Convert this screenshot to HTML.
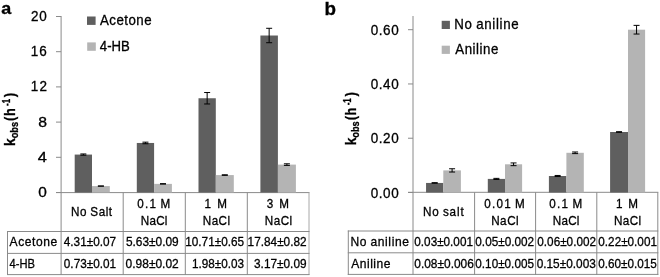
<!DOCTYPE html>
<html><head><meta charset="utf-8"><style>
html,body{margin:0;padding:0;background:#fff;}
svg{display:block;will-change:transform;font-family:"Liberation Sans",sans-serif;}
text{stroke:#000;stroke-width:0.3px;}
</style></head><body>
<svg width="660" height="277" viewBox="0 0 660 277">
<rect width="660" height="277" fill="#fff"/>
<text transform="translate(1.26,14.30) scale(1.0941,1)" font-size="16.4" font-weight="bold">a</text>
<text transform="translate(38.28,197.00) scale(1.0857,1)" font-size="14.2">0</text>
<line x1="56" y1="192.5" x2="61.1" y2="192.5" stroke="#8a8a8a" stroke-width="1"/>
<text transform="translate(37.67,161.80) scale(1.1574,1)" font-size="14.2">4</text>
<line x1="56" y1="157.3" x2="61.1" y2="157.3" stroke="#8a8a8a" stroke-width="1"/>
<text transform="translate(38.19,126.60) scale(1.1088,1)" font-size="14.2">8</text>
<line x1="56" y1="122.1" x2="61.1" y2="122.1" stroke="#8a8a8a" stroke-width="1"/>
<text transform="translate(30.69,91.40) scale(0.9500,1)" font-size="14.2" letter-spacing="1.381">12</text>
<line x1="56" y1="86.89999999999999" x2="61.1" y2="86.89999999999999" stroke="#8a8a8a" stroke-width="1"/>
<text transform="translate(30.69,56.20) scale(0.9500,1)" font-size="14.2" letter-spacing="1.239">16</text>
<line x1="56" y1="51.69999999999999" x2="61.1" y2="51.69999999999999" stroke="#8a8a8a" stroke-width="1"/>
<text transform="translate(31.03,21.00) scale(0.9500,1)" font-size="14.2" letter-spacing="0.813">20</text>
<line x1="56" y1="16.5" x2="61.1" y2="16.5" stroke="#8a8a8a" stroke-width="1"/>
<line x1="61.1" y1="16" x2="61.1" y2="275" stroke="#8a8a8a" stroke-width="1"/>
<line x1="56" y1="192.6" x2="309.5" y2="192.6" stroke="#8a8a8a" stroke-width="1"/>
<line x1="123.2" y1="192.6" x2="123.2" y2="275" stroke="#8a8a8a" stroke-width="1"/>
<line x1="185.3" y1="192.6" x2="185.3" y2="275" stroke="#8a8a8a" stroke-width="1"/>
<line x1="247.3" y1="192.6" x2="247.3" y2="275" stroke="#8a8a8a" stroke-width="1"/>
<line x1="309" y1="192.6" x2="309" y2="275" stroke="#a8a8a8" stroke-width="1"/>
<line x1="7" y1="231.5" x2="309.5" y2="231.5" stroke="#8a8a8a" stroke-width="1"/>
<line x1="7" y1="253.4" x2="309.5" y2="253.4" stroke="#8a8a8a" stroke-width="1"/>
<line x1="7" y1="274.6" x2="309.5" y2="274.6" stroke="#8a8a8a" stroke-width="1"/>
<line x1="7.5" y1="231" x2="7.5" y2="275" stroke="#8a8a8a" stroke-width="1"/>
<rect x="74.70" y="154.57" width="17.30" height="37.93" fill="#5f5f5f"/>
<rect x="92.00" y="186.08" width="17.80" height="6.42" fill="#b4b4b4"/>
<rect x="136.80" y="142.96" width="17.30" height="49.54" fill="#5f5f5f"/>
<rect x="154.10" y="183.88" width="17.80" height="8.62" fill="#b4b4b4"/>
<rect x="198.50" y="98.25" width="17.30" height="94.25" fill="#5f5f5f"/>
<rect x="215.80" y="175.08" width="18.00" height="17.42" fill="#b4b4b4"/>
<rect x="260.40" y="35.51" width="17.50" height="156.99" fill="#5f5f5f"/>
<rect x="277.90" y="164.60" width="18.00" height="27.90" fill="#b4b4b4"/>
<path d="M80.35 153.96H86.35M83.35 153.96V155.19M80.35 155.19H86.35" stroke="#000" stroke-width="1" fill="none"/>
<path d="M97.90 185.99H103.90M100.90 185.99V186.16M97.90 186.16H103.90" stroke="#000" stroke-width="1" fill="none"/>
<path d="M142.45 142.16H148.45M145.45 142.16V143.75M142.45 143.75H148.45" stroke="#000" stroke-width="1" fill="none"/>
<path d="M160.00 183.70H166.00M163.00 183.70V184.05M160.00 184.05H166.00" stroke="#000" stroke-width="1" fill="none"/>
<path d="M204.15 92.53H210.15M207.15 92.53V103.97M204.15 103.97H210.15" stroke="#000" stroke-width="1" fill="none"/>
<path d="M221.80 174.81H227.80M224.80 174.81V175.34M221.80 175.34H227.80" stroke="#000" stroke-width="1" fill="none"/>
<path d="M266.15 28.29H272.15M269.15 28.29V42.72M266.15 42.72H272.15" stroke="#000" stroke-width="1" fill="none"/>
<path d="M283.90 163.81H289.90M286.90 163.81V165.40M283.90 165.40H289.90" stroke="#000" stroke-width="1" fill="none"/>
<rect x="87.00" y="16.50" width="8.60" height="8.40" fill="#5f5f5f"/>
<text transform="translate(100.00,25.20) scale(0.9500,1)" font-size="14" letter-spacing="0.489">Acetone</text>
<rect x="87.20" y="42.40" width="8.60" height="8.40" fill="#b4b4b4"/>
<text transform="translate(99.84,51.20) scale(0.9394,1)" font-size="14">4-HB</text>
<text transform="translate(71.07,215.90) scale(0.9500,1)" font-size="12.3" letter-spacing="0.574" word-spacing="-0.574">No Salt</text>
<text transform="translate(137.33,207.80) scale(0.9500,1)" font-size="12.3" letter-spacing="1.260" word-spacing="-1.260">0.1 M</text>
<text transform="translate(140.87,224.90) scale(0.9500,1)" font-size="12.3" letter-spacing="0.194">NaCl</text>
<text transform="translate(204.62,207.80) scale(0.9500,1)" font-size="12.3" letter-spacing="3.111" word-spacing="-3.111">1 M</text>
<text transform="translate(202.87,224.90) scale(0.9500,1)" font-size="12.3" letter-spacing="0.405">NaCl</text>
<text transform="translate(266.73,207.80) scale(0.9500,1)" font-size="12.3" letter-spacing="2.997" word-spacing="-2.997">3 M</text>
<text transform="translate(264.87,224.90) scale(0.9500,1)" font-size="12.3" letter-spacing="0.475">NaCl</text>
<text transform="translate(9.60,246.30) scale(0.9500,1)" font-size="12.7" letter-spacing="0.608">Acetone</text>
<text transform="translate(9.48,267.80) scale(0.8785,1)" font-size="12.7">4-HB</text>
<text transform="translate(63.76,246.30) scale(0.9297,1)" font-size="12.7">4.31±0.07</text>
<text transform="translate(63.83,267.80) scale(0.9275,1)" font-size="12.7">0.73±0.01</text>
<text transform="translate(125.92,246.30) scale(0.9366,1)" font-size="12.7">5.63±0.09</text>
<text transform="translate(125.62,267.80) scale(0.9431,1)" font-size="12.7">0.98±0.02</text>
<text transform="translate(185.22,246.30) scale(0.9278,1)" font-size="12.7">10.71±0.65</text>
<text transform="translate(192.02,267.80) scale(0.9230,1)" font-size="12.7">1.98±0.03</text>
<text transform="translate(247.61,246.30) scale(0.9297,1)" font-size="12.7">17.84±0.82</text>
<text transform="translate(254.03,267.80) scale(0.9311,1)" font-size="12.7">3.17±0.09</text>
<text transform="translate(324.58,15.40) scale(0.9901,1)" font-size="19" font-weight="bold">b</text>
<text transform="translate(370.76,197.70) scale(0.9500,1)" font-size="14.2" letter-spacing="0.587">0.00</text>
<line x1="408" y1="192.5" x2="413" y2="192.5" stroke="#8a8a8a" stroke-width="1"/>
<text transform="translate(370.76,143.43) scale(0.9500,1)" font-size="14.2" letter-spacing="0.587">0.20</text>
<line x1="408" y1="138.23333333333332" x2="413" y2="138.23333333333332" stroke="#8a8a8a" stroke-width="1"/>
<text transform="translate(370.76,89.17) scale(0.9500,1)" font-size="14.2" letter-spacing="0.587">0.40</text>
<line x1="408" y1="83.96666666666664" x2="413" y2="83.96666666666664" stroke="#8a8a8a" stroke-width="1"/>
<text transform="translate(370.76,34.90) scale(0.9500,1)" font-size="14.2" letter-spacing="0.587">0.60</text>
<line x1="408" y1="29.69999999999999" x2="413" y2="29.69999999999999" stroke="#8a8a8a" stroke-width="1"/>
<line x1="413" y1="16" x2="413" y2="275" stroke="#8a8a8a" stroke-width="1"/>
<line x1="408" y1="192.3" x2="658.3" y2="192.3" stroke="#8a8a8a" stroke-width="1"/>
<line x1="474.6" y1="192.3" x2="474.6" y2="275" stroke="#8a8a8a" stroke-width="1"/>
<line x1="535.6" y1="192.3" x2="535.6" y2="275" stroke="#8a8a8a" stroke-width="1"/>
<line x1="596.8" y1="192.3" x2="596.8" y2="275" stroke="#8a8a8a" stroke-width="1"/>
<line x1="657.8" y1="192.3" x2="657.8" y2="275" stroke="#8a8a8a" stroke-width="1"/>
<line x1="347.8" y1="231.0" x2="658.3" y2="231.0" stroke="#8a8a8a" stroke-width="1"/>
<line x1="347.8" y1="252.8" x2="658.3" y2="252.8" stroke="#8a8a8a" stroke-width="1"/>
<line x1="347.8" y1="274.4" x2="658.3" y2="274.4" stroke="#8a8a8a" stroke-width="1"/>
<line x1="348.3" y1="230.5" x2="348.3" y2="275" stroke="#8a8a8a" stroke-width="1"/>
<rect x="426.06" y="182.95" width="17.24" height="9.55" fill="#5f5f5f"/>
<rect x="443.30" y="170.40" width="17.60" height="22.10" fill="#b4b4b4"/>
<rect x="487.80" y="178.90" width="17.20" height="13.60" fill="#5f5f5f"/>
<rect x="505.00" y="164.30" width="17.10" height="28.20" fill="#b4b4b4"/>
<rect x="548.90" y="176.00" width="17.50" height="16.50" fill="#5f5f5f"/>
<rect x="566.40" y="152.80" width="17.40" height="39.70" fill="#b4b4b4"/>
<rect x="610.10" y="132.00" width="17.90" height="60.50" fill="#5f5f5f"/>
<rect x="628.00" y="29.70" width="17.10" height="162.80" fill="#b4b4b4"/>
<path d="M431.68 182.68H437.68M434.68 182.68V183.22M431.68 183.22H437.68" stroke="#000" stroke-width="1" fill="none"/>
<path d="M449.10 168.77H455.10M452.10 168.77V172.03M449.10 172.03H455.10" stroke="#000" stroke-width="1" fill="none"/>
<path d="M493.40 178.36H499.40M496.40 178.36V179.44M493.40 179.44H499.40" stroke="#000" stroke-width="1" fill="none"/>
<path d="M510.55 162.94H516.55M513.55 162.94V165.66M510.55 165.66H516.55" stroke="#000" stroke-width="1" fill="none"/>
<path d="M554.65 175.46H560.65M557.65 175.46V176.54M554.65 176.54H560.65" stroke="#000" stroke-width="1" fill="none"/>
<path d="M572.10 151.99H578.10M575.10 151.99V153.61M572.10 153.61H578.10" stroke="#000" stroke-width="1" fill="none"/>
<path d="M616.05 131.73H622.05M619.05 131.73V132.27M616.05 132.27H622.05" stroke="#000" stroke-width="1" fill="none"/>
<path d="M633.55 25.36H639.55M636.55 25.36V34.04M633.55 34.04H639.55" stroke="#000" stroke-width="1" fill="none"/>
<rect x="441.70" y="20.80" width="8.20" height="8.20" fill="#5f5f5f"/>
<text transform="translate(454.24,29.30) scale(0.9500,1)" font-size="14" letter-spacing="0.703" word-spacing="-0.703">No aniline</text>
<rect x="441.70" y="45.70" width="8.20" height="8.20" fill="#b4b4b4"/>
<text transform="translate(455.30,54.20) scale(0.9500,1)" font-size="14" letter-spacing="0.544">Aniline</text>
<text transform="translate(423.07,215.60) scale(0.9500,1)" font-size="12.3" letter-spacing="0.895" word-spacing="-0.895">No salt</text>
<text transform="translate(484.33,207.60) scale(0.9500,1)" font-size="12.3" letter-spacing="1.264" word-spacing="-1.264">0.01 M</text>
<text transform="translate(491.17,224.70) scale(0.9500,1)" font-size="12.3" letter-spacing="0.545">NaCl</text>
<text transform="translate(549.33,207.60) scale(0.9500,1)" font-size="12.3" letter-spacing="1.260" word-spacing="-1.260">0.1 M</text>
<text transform="translate(552.87,224.70) scale(0.9500,1)" font-size="12.3" letter-spacing="0.194">NaCl</text>
<text transform="translate(616.12,207.60) scale(0.9500,1)" font-size="12.3" letter-spacing="2.585" word-spacing="-2.585">1 M</text>
<text transform="translate(613.97,224.70) scale(0.9500,1)" font-size="12.3" letter-spacing="0.405">NaCl</text>
<text transform="translate(350.53,246.30) scale(0.9500,1)" font-size="12.7" letter-spacing="0.629" word-spacing="-0.629">No aniline</text>
<text transform="translate(351.20,267.50) scale(0.9500,1)" font-size="12.7" letter-spacing="0.535">Aniline</text>
<text transform="translate(414.33,246.30) scale(0.9237,1)" font-size="12.7">0.03±0.001</text>
<text transform="translate(414.32,267.50) scale(0.9388,1)" font-size="12.7">0.08±0.006</text>
<text transform="translate(475.33,246.30) scale(0.9263,1)" font-size="12.7">0.05±0.002</text>
<text transform="translate(475.33,267.50) scale(0.9244,1)" font-size="12.7">0.10±0.005</text>
<text transform="translate(537.33,246.30) scale(0.9247,1)" font-size="12.7">0.06±0.002</text>
<text transform="translate(536.63,267.50) scale(0.9340,1)" font-size="12.7">0.15±0.003</text>
<text transform="translate(598.33,246.30) scale(0.9237,1)" font-size="12.7">0.22±0.001</text>
<text transform="translate(598.33,267.50) scale(0.9228,1)" font-size="12.7">0.60±0.015</text>
<text transform="translate(14.90,145.97) rotate(-90) scale(0.8913,1)" font-size="15.5" font-weight="bold">k</text>
<text transform="translate(18.10,138.27) rotate(-90) scale(0.8367,1)" font-size="11" font-weight="bold">obs</text>
<text transform="translate(14.90,120.94) rotate(-90) scale(0.8295,1)" font-size="15.5" font-weight="bold">(</text>
<text transform="translate(14.90,116.09) rotate(-90) scale(0.8199,1)" font-size="15.5" font-weight="bold">h</text>
<text transform="translate(9.60,105.92) rotate(-90) scale(0.8000,1)" font-size="10" font-weight="bold">-1</text>
<text transform="translate(14.90,97.20) rotate(-90) scale(0.8602,1)" font-size="15.5" font-weight="bold">)</text>
<text transform="translate(356.20,145.37) rotate(-90) scale(0.8913,1)" font-size="15.5" font-weight="bold">k</text>
<text transform="translate(359.40,137.67) rotate(-90) scale(0.8367,1)" font-size="11" font-weight="bold">obs</text>
<text transform="translate(356.20,120.34) rotate(-90) scale(0.8295,1)" font-size="15.5" font-weight="bold">(</text>
<text transform="translate(356.20,115.49) rotate(-90) scale(0.8199,1)" font-size="15.5" font-weight="bold">h</text>
<text transform="translate(350.90,105.32) rotate(-90) scale(0.8000,1)" font-size="10" font-weight="bold">-1</text>
<text transform="translate(356.20,96.60) rotate(-90) scale(0.8602,1)" font-size="15.5" font-weight="bold">)</text>
</svg></body></html>
